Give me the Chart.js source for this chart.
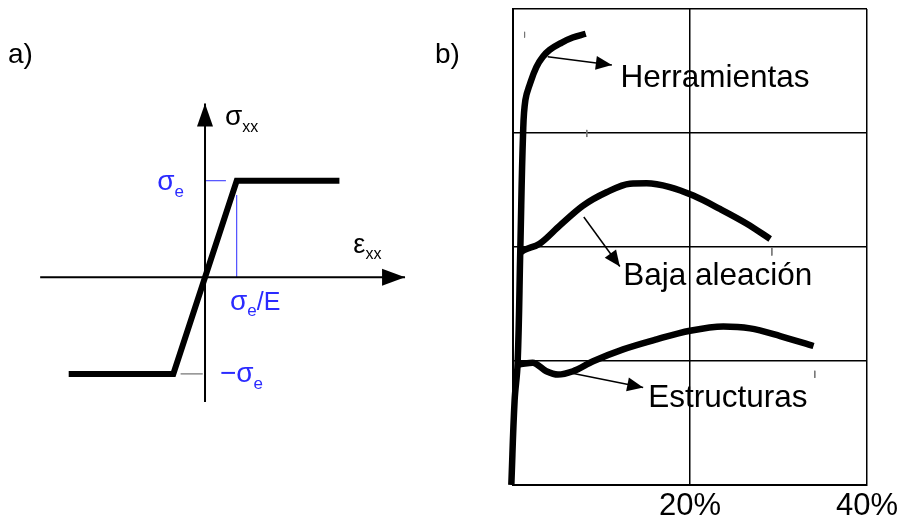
<!DOCTYPE html>
<html>
<head>
<meta charset="utf-8">
<script src="https://cdn.jsdelivr.net/npm/chart.js@4.4.1/dist/chart.umd.min.js"></script>
<style>
  html, body { margin: 0; padding: 0; background: #fff; }
  #wrap { position: relative; width: 898px; height: 522px; overflow: hidden; }
  #chartA { position: absolute; left: 0; top: 0; }
  #chartB { position: absolute; left: 490px; top: 0; }
</style>
</head>
<body>
<div id="wrap">
  <canvas id="chartA" width="490" height="522"></canvas>
  <canvas id="chartB" width="408" height="522"></canvas>
</div>
<script>
// a) modelo elastoplastico ideal (deformacion en unidades de σe/E, tension en unidades de σe)
const strainA = [-4.3, -1, 1, 4.24];
const stressA = [-1, -1, 1, 1];
const strainAxisA = [-5.2, 6.31];
const stressAxisA = [-1.29, 1.8];
const yieldStrain = 1;
const yieldStress = 1;
const yieldGuideTop = 0.852;      // linea azul vertical hasta aqui
const yieldTickEnd = 0.66;        // marca azul en σe
const compTick = [-0.77, -0.07];  // marca gris en −σe

// b) curvas de traccion de aceros (deformacion %, tension relativa)
const herrStrain = [-0.19, 0.18, 0.52, 0.83, 1.14, 1.4, 1.96, 2.64, 3.35, 4.14, 5.47, 6.75, 8.22];
const herrStress = [0, 17.7, 25.5, 49.9, 73.9, 80.9, 84.5, 87.8, 89.9, 91.4, 92.9, 94.0, 94.8];
const bajaStrain = [0.86, 1.31, 3.01, 5.28, 7.92, 10.57, 13.21, 15.1, 17.71, 20.37, 23.38, 26.42, 29.06];
const bajaStress = [48.9, 49.4, 50.7, 54.5, 58.7, 61.5, 63.3, 63.4, 62.6, 60.8, 58.0, 54.9, 51.7];
const estrStrain = [0.55, 0.94, 2.22, 3.77, 5.08, 6.78, 9.05, 12.45, 16.23, 20.0, 23.77, 26.79, 30.19, 33.96];
const estrStress = [25.3, 25.4, 25.7, 23.9, 23.2, 23.9, 26.0, 28.5, 30.6, 32.4, 33.3, 32.9, 31.3, 29.2];
const curveNames = ['Herramientas', 'Baja aleación', 'Estructuras'];
// flechas: [x0, y0, x1, y1]
const pointers = [
  [3.92, 89.95, 11.17, 88.26],
  [8.0, 56.3, 12.07, 45.9],
  [6.41, 23.6, 14.71, 20.5]
];
// pequeñas marcas verticales: [x, y0, y1]
const endMarks = [[1.31, 95.2, 94.0], [8.34, 74.6, 73.1], [29.25, 49.9, 48.2], [34.1, 24.0, 22.5]];
const xTicksB = [0, 20, 40];
const yGridB = [0, 26, 50, 74, 100];

const FONT = '"Liberation Sans", Arial, Helvetica, sans-serif';
const BLUE = '#2b2bff';

function pts(xs, ys) {
  return xs.map((x, i) => ({ x: x, y: ys[i] }));
}

// punta de flecha al final de los datasets que la piden
const arrowHeads = {
  id: 'arrowHeads',
  afterDatasetsDraw(chart) {
    const ctx = chart.ctx;
    chart.data.datasets.forEach((ds, i) => {
      if (!ds.arrowHead) return;
      const el = chart.getDatasetMeta(i).data;
      const a = el[el.length - 2], b = el[el.length - 1];
      const ang = Math.atan2(b.y - a.y, b.x - a.x);
      const len = ds.arrowHead[0], w = ds.arrowHead[1];
      ctx.save();
      ctx.translate(b.x, b.y);
      ctx.rotate(ang);
      ctx.beginPath();
      ctx.moveTo(0, 0);
      ctx.lineTo(-len, -w / 2);
      ctx.lineTo(-len, w / 2);
      ctx.closePath();
      ctx.fillStyle = ds.borderColor;
      ctx.fill();
      ctx.restore();
    });
  }
};

// textos con subindices, posicionados en coordenadas de datos (o px para las letras del panel)
function textLabels(items) {
  return {
    id: 'textLabels',
    afterDatasetsDraw(chart) {
      const ctx = chart.ctx;
      const sx = chart.scales.x, sy = chart.scales.y;
      items.forEach(item => {
        let px = item.px !== undefined ? item.px : sx.getPixelForValue(item.x);
        const py = item.py !== undefined ? item.py : sy.getPixelForValue(item.y);
        ctx.save();
        ctx.fillStyle = item.color || '#000';
        ctx.textBaseline = 'alphabetic';
        ctx.textAlign = 'left';
        item.parts.forEach(p => {
          ctx.font = p[1] + 'px ' + FONT;
          ctx.fillText(p[0], px, py + (p[2] || 0));
          px += ctx.measureText(p[0]).width;
        });
        ctx.restore();
      });
    }
  };
}

const labelsA = [
  { px: 8, py: 63, parts: [['a)', 28]] },
  { px: 435, py: 63, parts: [['b)', 28]] },
  { x: 0.63, y: 1.577, parts: [['σ', 28], ['xx', 16, 7]] },
  { x: -1.51, y: 0.904, color: BLUE, parts: [['σ', 28], ['e', 17, 7]] },
  { x: 4.68, y: 0.248, parts: [['ε', 27], ['xx', 16, 6]] },
  { x: 0.79, y: -0.339, color: BLUE, parts: [['σ', 28], ['e', 17, 6], ['/E', 25]] },
  { x: 0.47, y: -1.081, color: BLUE, parts: [['−σ', 28], ['e', 17, 7]] }
];

const labelsB = [
  { x: 12.15, y: 83.7, parts: [[curveNames[0], 31.5]] },
  { x: 12.45, y: 42.1, parts: [[curveNames[1], 31.5]] },
  { x: 15.28, y: 16.3, parts: [[curveNames[2], 31.5]] }
];

const lineBase = { showLine: true, pointRadius: 0, pointHoverRadius: 0, fill: false, clip: false };

// ---------- panel a ----------
new Chart(document.getElementById('chartA'), {
  type: 'scatter',
  data: {
    datasets: [
      Object.assign({}, lineBase, {
        data: pts(strainA, stressA), borderColor: '#000', borderWidth: 6,
        borderJoinStyle: 'miter', borderCapStyle: 'butt'
      }),
      Object.assign({}, lineBase, {
        data: pts(strainAxisA, [0, 0]), borderColor: '#000', borderWidth: 2, arrowHead: [23, 17]
      }),
      Object.assign({}, lineBase, {
        data: pts([0, 0], stressAxisA), borderColor: '#000', borderWidth: 2, arrowHead: [23, 16]
      }),
      Object.assign({}, lineBase, {
        data: pts([yieldStrain, yieldStrain], [0, yieldGuideTop]), borderColor: BLUE, borderWidth: 1
      }),
      Object.assign({}, lineBase, {
        data: pts([0, yieldTickEnd], [yieldStress, yieldStress]), borderColor: BLUE, borderWidth: 1
      }),
      Object.assign({}, lineBase, {
        data: pts(compTick, [-yieldStress, -yieldStress]), borderColor: '#555', borderWidth: 1
      })
    ]
  },
  options: {
    responsive: false,
    animation: false,
    devicePixelRatio: 1,
    layout: { padding: 0 },
    plugins: { legend: { display: false }, tooltip: { enabled: false } },
    scales: {
      x: { type: 'linear', display: false, min: -6.467, max: 8.99 },
      y: { type: 'linear', display: false, min: -2.533, max: 2.871 }
    }
  },
  plugins: [arrowHeads, textLabels(labelsA)]
});

// ---------- panel b ----------
const datasetsB = [
  Object.assign({}, lineBase, {
    data: pts(herrStrain, herrStress), borderColor: '#000', borderWidth: 6.5,
    tension: 0.4, borderCapStyle: 'butt'
  }),
  Object.assign({}, lineBase, {
    data: pts(bajaStrain, bajaStress), borderColor: '#000', borderWidth: 6.5,
    cubicInterpolationMode: 'monotone', borderCapStyle: 'butt'
  }),
  Object.assign({}, lineBase, {
    data: pts(estrStrain, estrStress), borderColor: '#000', borderWidth: 6.5,
    cubicInterpolationMode: 'monotone', borderCapStyle: 'butt'
  })
];
pointers.forEach(p => {
  datasetsB.push(Object.assign({}, lineBase, {
    data: pts([p[0], p[2]], [p[1], p[3]]), borderColor: '#000', borderWidth: 1.5, arrowHead: [16, 14]
  }));
});
endMarks.forEach(m => {
  datasetsB.push(Object.assign({}, lineBase, {
    data: pts([m[0], m[0]], [m[1], m[2]]), borderColor: '#777', borderWidth: 1
  }));
});

new Chart(document.getElementById('chartB'), {
  type: 'scatter',
  data: { datasets: datasetsB },
  options: {
    responsive: false,
    animation: false,
    devicePixelRatio: 1,
    layout: { padding: { left: 23, top: 9, right: 0, bottom: -6 } },
    plugins: { legend: { display: false }, tooltip: { enabled: false } },
    scales: {
      x: {
        type: 'linear', min: 0, max: 40,
        afterBuildTicks: s => { s.ticks = xTicksB.map(v => ({ value: v })); },
        // el ultimo rotulo ("40%") puede sobresalir hasta el borde del lienzo
        afterFit: s => { s.paddingRight = 31; },
        ticks: {
          callback: v => (v === 0 ? '' : v + '%'),
          font: { size: 31, family: FONT, lineHeight: 1 },
          color: '#000', padding: 6, maxRotation: 0, autoSkip: false
        },
        grid: { color: '#000', lineWidth: 1.5, drawTicks: false },
        border: { color: '#000', width: 2 }
      },
      y: {
        type: 'linear', min: 0, max: 100,
        afterBuildTicks: s => { s.ticks = yGridB.map(v => ({ value: v })); },
        ticks: { display: false },
        grid: { color: '#000', lineWidth: 1.5, drawTicks: false },
        border: { color: '#000', width: 2 }
      }
    }
  },
  plugins: [arrowHeads, textLabels(labelsB)]
});
</script>
</body>
</html>
